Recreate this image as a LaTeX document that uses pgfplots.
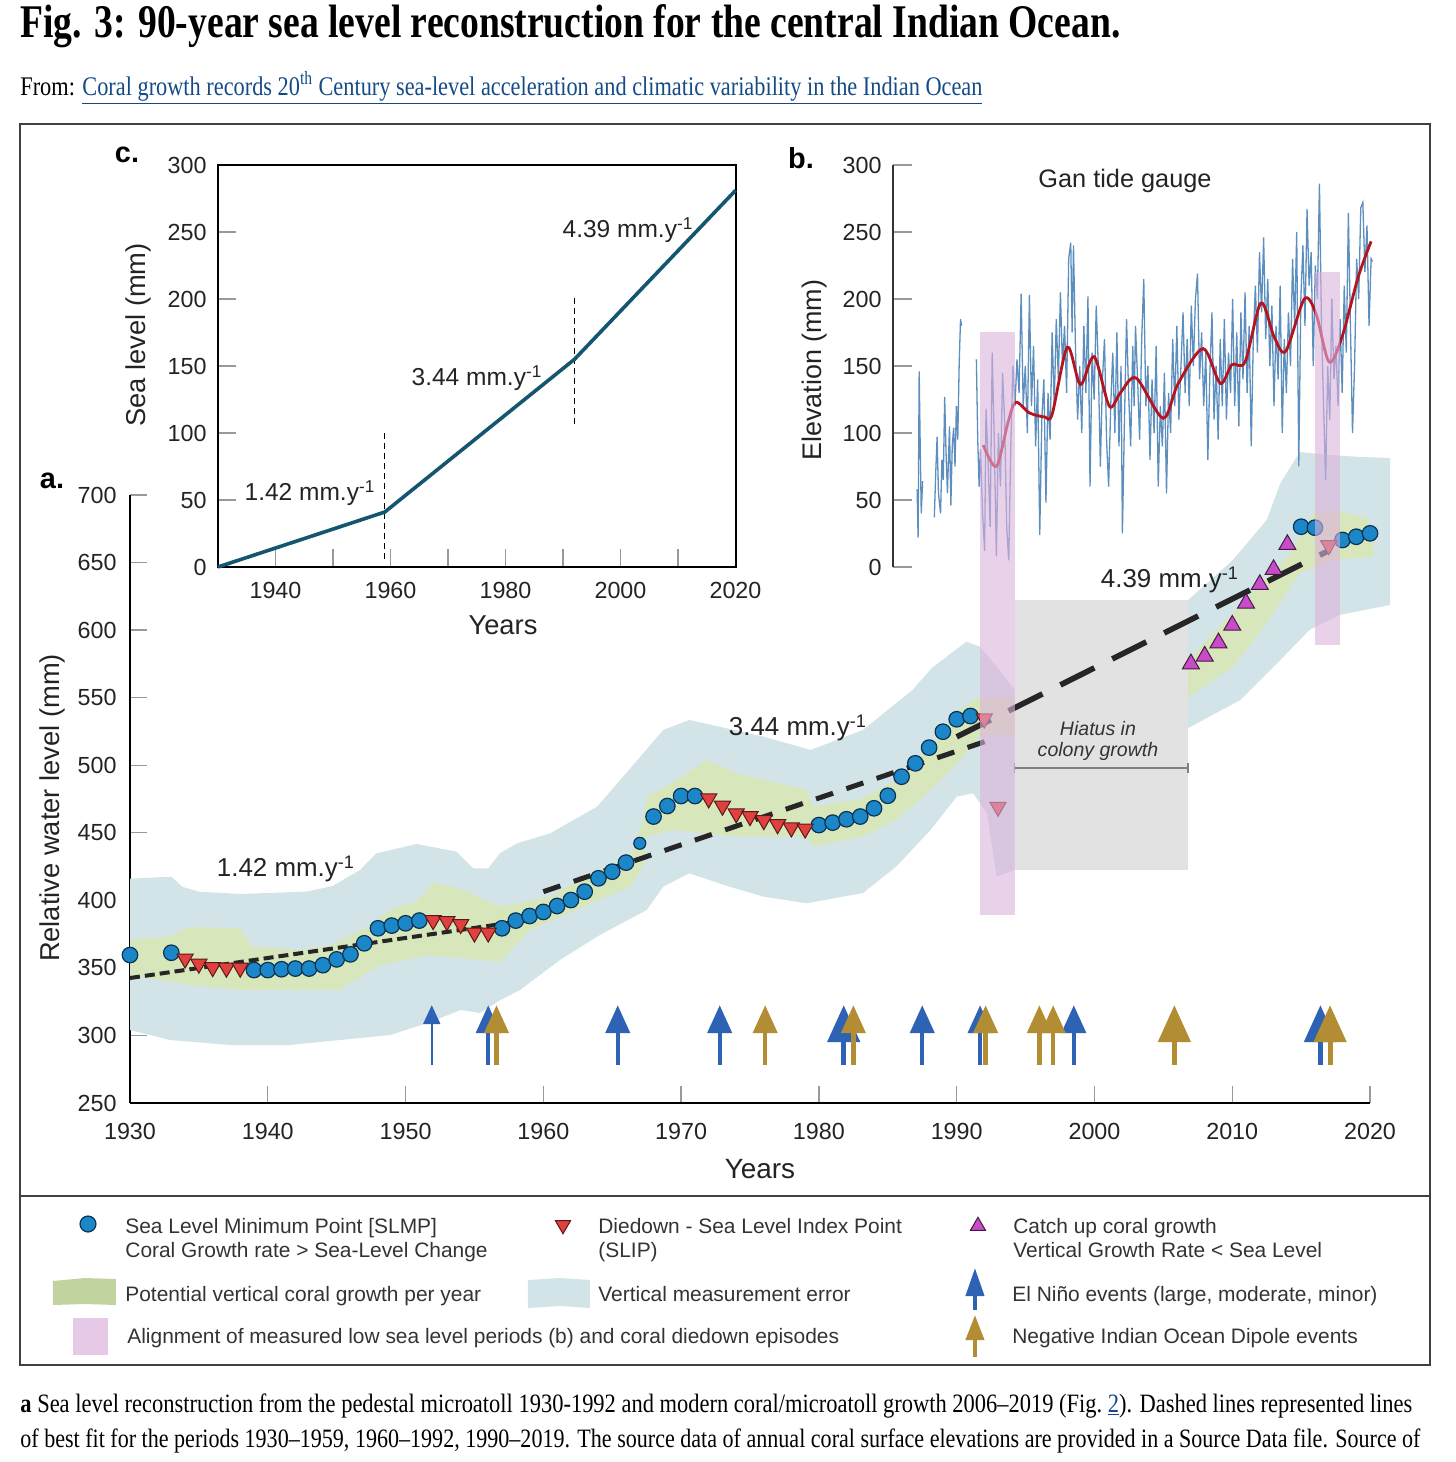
\documentclass[border=0pt]{standalone}
\usepackage{fontspec}
\setmainfont{Liberation Sans}
\newfontfamily\capfont{Liberation Serif}
\usepackage{graphicx}
\usepackage{pgfplots}
\pgfplotsset{compat=1.18}
\usetikzlibrary{arrows.meta}

\definecolor{slmp}{RGB}{27,135,201}
\definecolor{slmpedge}{RGB}{12,50,80}
\definecolor{slip}{RGB}{224,65,63}
\definecolor{slipedge}{RGB}{90,25,25}
\definecolor{catchup}{RGB}{200,76,200}
\definecolor{catchedge}{RGB}{70,25,70}
\definecolor{errband}{RGB}{211,228,232}
\definecolor{growband}{RGB}{216,231,187}
\definecolor{growswatch}{RGB}{193,212,160}
\definecolor{alignpink}{RGB}{220,178,220}
\definecolor{hiatus}{RGB}{226,226,226}
\definecolor{elnino}{RGB}{45,98,180}
\definecolor{niod}{RGB}{179,141,51}
\definecolor{gaugeblue}{RGB}{92,142,190}
\definecolor{gaugered}{RGB}{180,20,30}
\definecolor{slcurve}{RGB}{20,85,112}
\definecolor{linkblue}{RGB}{20,75,135}
\definecolor{txt}{RGB}{35,35,35}

\pgfplotsset{
  ticks common/.style={
    tick align=inside,
    every tick/.style={black!40, line width=0.7bp},
    ticklabel style={font=\fontsize{11.7}{13}\selectfont, text=txt, inner sep=0pt},
    /pgf/number format/1000 sep={},
    /pgf/number format/assume math mode=true,
  },
}

\begin{document}
\begin{tikzpicture}
\useasboundingbox (0,0) rectangle (728bp,731bp);

% ---------------- a. main reconstruction ----------------
\begin{axis}[
  at={(65bp,179.5bp)}, anchor=south west,
  x=6.889bp, y=0.67556bp,
  xmin=1930, xmax=2020, ymin=250, ymax=700,
  axis x line=bottom, axis y line=left,
  axis line style={-, line width=1bp, black},
  clip=false,
  ticks common,
  xtick={1930,1940,...,2020}, ytick={250,300,...,700},
  major tick length=8.5bp,
  xticklabel style={anchor=north, yshift=-9.7bp},
  yticklabel style={anchor=east, xshift=-6.5bp},
]
% hiatus in colony growth
\addplot[fill=hiatus, draw=none] coordinates {(1994.2,422.4)(2006.8,422.4)(2006.8,622.3)(1994.2,622.3)} --cycle;

% vertical measurement error
\addplot[fill=errband, draw=none] coordinates {
(1930,416)(1933,417.5)(1933.8,410)(1935,406.4)(1938,404.7)(1942.8,406.4)(1944.7,410.6)
(1946.7,422.5)(1947.9,434.8)(1950.8,441.7)(1953.7,436)(1954.9,423.7)(1956,423.7)
(1956.85,434.8)(1958.1,442.2)(1960.5,449.6)(1963.9,469.3)(1967.25,508.8)(1968.7,526.1)
(1970.6,533.5)(1976,521.1)(1979.4,511.3)(1983.2,526.1)(1986.8,555.7)(1988.2,572)
(1990.7,591.4)(1991.7,587.7)(1993.1,570.5)(1994.2,555.7)
(1994.2,422.5)(1992.9,417.5)(1992.2,464.4)(1991.2,479.2)(1990.0,476.7)(1988.1,452)
(1985.6,424.9)(1983.2,405.4)(1979.1,397.8)(1976.0,402.7)(1973.5,410.1)(1970.6,420)
(1968.7,410.1)(1967.5,392.8)(1964.1,374.3)(1961.2,355.8)(1958.3,333.6)(1956.85,326)
(1955.4,316.6)(1954,318.8)(1951.8,310)(1948.9,300.3)(1945.2,296.6)(1941.6,292.9)
(1937.3,292.9)(1932.9,296.6)(1930,304)} --cycle;
\addplot[fill=errband, draw=none] coordinates {
(2006.8,622.3)(2010.05,651.9)(2012.5,681.5)(2013.5,708.9)(2014.9,731.8)(2017.1,729.6)
(2019.3,728.1)(2021.45,727.4)(2021.45,618.6)(2017.8,611.2)(2015.6,600.1)(2013.5,577.9)
(2010.6,548.3)(2006.8,527.5)} --cycle;

% potential vertical coral growth
\addplot[fill=growband, draw=none] coordinates {
(1930,370.6)(1932.7,373.1)(1934.1,379.3)(1935.1,380)(1938,379.3)(1938.8,365.7)
(1942.3,363.2)(1944.7,366.9)(1947.2,380.5)(1948.9,392.8)(1950.8,399)(1952,412.6)
(1953.5,410.1)(1954.7,405.2)(1956.85,395.3)(1959.3,400.2)(1960.5,402.7)(1963.9,422.5)
(1966.3,432)(1967.25,460)(1967.5,476.7)(1969.7,489)(1971.9,503.9)(1974,494)
(1979.1,481.7)(1979.6,469.3)(1983.2,475.5)(1985.6,489)(1988.1,513.7)(1990.5,543.3)
(1991.5,549.5)(1994.2,550.7)
(1994.2,522.4)(1991.7,522.4)(1990.5,506.3)(1988.1,481.7)(1985.6,459.5)(1983.2,447.1)
(1979.6,439.7)(1979.1,447.1)(1974,447.1)(1969.4,452)(1967.5,447.1)(1967.25,424.9)
(1966.3,410.1)(1959,378)(1956.85,354.4)(1955.4,355.8)(1951.8,359.5)(1948.1,352)
(1945.2,333.6)(1938,333.6)(1934.4,337.3)(1930,344.7)} --cycle;
\addplot[fill=growband, draw=none] coordinates {
(2006.8,577.9)(2010.05,612.7)(2014,654.1)(2015.9,686.7)(2017.3,688.9)(2019.75,683)
(2020.3,672)(2020.2,654.1)(2017.3,651.9)(2014.9,642.3)(2012.5,605.3)(2010.05,572.7)
(2006.8,550.5)} --cycle;

% hiatus bracket
\addplot[black!50, line width=0.7bp] coordinates {(1994.2,497.9)(2006.8,497.9)};
\addplot[black!50, line width=0.7bp] coordinates {(1994.2,494)(1994.2,502)};
\addplot[black!50, line width=0.7bp] coordinates {(2006.8,494)(2006.8,502)};

% El Nino events
\addplot[elnino, mark=none, quiver={u=0,v=44.4}, line width=1.1bp,
  -{Triangle[width=8.5bp,length=9.5bp]}] coordinates {(1951.9,278)};
\addplot[elnino, mark=none, quiver={u=0,v=44.4}, line width=2.2bp,
  -{Triangle[width=12bp,length=14bp]}] coordinates {
  (1956.0,278)(1965.4,278)(1972.8,278)(1987.5,278)(1991.7,278)(1998.5,278)};
\addplot[elnino, mark=none, quiver={u=0,v=44.4}, line width=2.5bp,
  -{Triangle[width=16bp,length=18.5bp]}] coordinates {(1981.8,278)(2016.4,278)};
% negative IOD events
\addplot[niod, mark=none, quiver={u=0,v=44.4}, line width=2.2bp,
  -{Triangle[width=12bp,length=14bp]}] coordinates {
  (1956.6,278)(1976.1,278)(1982.5,278)(1992.1,278)(1996.0,278)(1997.0,278)};
\addplot[niod, mark=none, quiver={u=0,v=44.4}, line width=2.5bp,
  -{Triangle[width=16bp,length=18.5bp]}] coordinates {(2005.8,278)(2017.1,278)};

% sea level minimum points
\addplot[only marks, mark=*, mark size=3.9pt,
  mark options={fill=slmp, draw=slmpedge, line width=0.6bp}] coordinates {
(1930,359.5)(1933,361.2)(1939,348.4)(1940,348.4)(1941,349.0)(1942,349.5)(1943,349.5)
(1944,352.0)(1945,356.3)(1946,360.0)(1947,368.2)(1948,379.3)(1949,381.3)(1950,383.0)
(1951,385.0)(1957,379.3)(1958,385.0)(1959,388.4)(1960,391.4)(1961,395.8)(1962,400.2)
(1963,406.4)(1964,416.3)(1965,421.2)(1966,427.9)(1968,462.0)(1969,469.8)(1970,477.2)
(1971,477.2)(1980,455.7)(1981,457.5)(1982,460.0)(1983,462.0)(1984,468.1)(1985,477.4)
(1986,491.5)(1987,501.4)(1988,513.0)(1989,524.8)(1990,534.0)(1991,536.4)
(2015,676.5)(2016,675.8)(2018,666.7)(2019,669.1)(2020,671.6)};
\addplot[only marks, mark=*, mark size=3pt,
  mark options={fill=slmp, draw=slmpedge, line width=0.6bp}] coordinates {(1967,442.2)};
% diedown index points
\addplot[only marks, mark=triangle*, mark size=4.7pt,
  mark options={rotate=180, fill=slip, draw=slipedge, line width=0.5bp}] coordinates {
(1934,356.8)(1935,353)(1936,350.4)(1937,350)(1938,350)(1952,385.2)(1953,384.5)
(1954,382.3)(1955,376)(1956,376)(1972,475.3)(1973,469.9)(1974,464.2)(1975,462.2)
(1976,459.2)(1977,456.2)(1978,453.8)(1979,453)(1992,534.5)(1993,469.1)(2017,662.7)};
% catch up growth
\addplot[only marks, mark=triangle*, mark size=4.9pt,
  mark options={fill=catchup, draw=catchedge, line width=0.5bp}] coordinates {
(2007,575)(2008,580.7)(2009,590.5)(2010,603.6)(2011,619.9)(2012,633.7)(2013,644.8)(2014,663.3)};

% lines of best fit
\addplot[black!85, line width=2bp, dash pattern=on 5bp off 2.5bp] coordinates {(1930,342.5)(1959,385.5)};
\addplot[black!85, line width=2.5bp, dash pattern=on 9bp off 7bp] coordinates {(1960,406.4)(1992.2,518)};
\addplot[black!85, line width=2.8bp, dash pattern=on 19bp off 10bp] coordinates {(1990,521)(2017.1,659.3)};
\end{axis}

% ---------------- c. sea level rates ----------------
\begin{axis}[
  at={(109bp,447.5bp)}, anchor=south west,
  x=2.875bp, y=0.67bp,
  xmin=1930, xmax=2020, ymin=0, ymax=300,
  axis line style={line width=1bp, black},
  clip=false,
  ticks common,
  tick pos=left,
  xtick={1940,1950,...,2020}, xticklabels={1940,,1960,,1980,,2000,,2020},
  ytick={0,50,...,300},
  major tick length=9bp,
  xticklabel style={anchor=north, yshift=-7.3bp},
  yticklabel style={anchor=east, xshift=-5.5bp},
]
\addplot[black, line width=0.6bp, dash pattern=on 3bp off 2bp] coordinates {(1959,6)(1959,102)};
\addplot[black, line width=0.6bp, dash pattern=on 3bp off 2bp] coordinates {(1992,107)(1992,204)};
\addplot[slcurve, line width=1.8bp] coordinates {(1930,0)(1959,41)(1992,155)(2020,281)};
\end{axis}

% ---------------- b. Gan tide gauge ----------------
\begin{axis}[
  at={(446.5bp,447.5bp)}, anchor=south west,
  x=6.889bp, y=0.67bp,
  xmin=1985.4, xmax=2022, ymin=0, ymax=300,
  axis x line=none, axis y line=left, xtick=\empty,
  axis line style={-, line width=0.8bp, black!80},
  clip=false, unbounded coords=jump,
  ticks common,
  ytick={0,50,...,300},
  major tick length=9.5bp,
  yticklabel style={anchor=east, xshift=-5.5bp},
]
\addplot[gaugeblue, line width=0.65bp] coordinates {
(1987.15,58)(1987.22,22)(1987.3,146)(1987.38,86)(1987.45,40)(1987.55,64)(1987.7,nan)
(1988.4,37)(1988.5,70)(1988.6,97)(1988.7,55)(1988.85,40)(1988.95,80)(1989.05,65)
(1989.15,127)(1989.25,85)(1989.35,55)(1989.5,105)(1989.6,46)(1989.7,90)(1989.8,104)
(1989.9,75)(1990.0,120)(1990.1,95)(1990.2,150)(1990.3,185)(1990.38,180)(1990.9,nan)
(1991.45,155)(1991.55,95)(1991.65,60)(1991.75,88)(1991.9,40)(1992.05,12)(1992.15,118)
(1992.3,80)(1992.45,30)(1992.6,160)(1992.75,95)(1992.9,8)(1993.05,100)(1993.2,60)
(1993.35,145)(1993.5,110)(1993.65,30)(1993.8,5)(1993.95,90)(1994.1,150)(1994.25,120)
(1994.4,155)(1994.55,130)(1994.7,204)(1994.85,120)(1995.0,150)(1995.15,100)(1995.3,203)
(1995.45,120)(1995.6,165)(1995.75,90)(1995.9,140)(1996.05,24)(1996.2,110)(1996.35,140)
(1996.5,48)(1996.65,130)(1996.8,95)(1996.95,175)(1997.1,120)(1997.25,185)(1997.4,140)
(1997.55,205)(1997.7,150)(1997.85,180)(1998.0,130)(1998.15,230)(1998.3,242)(1998.4,175)
(1998.5,240)(1998.65,160)(1998.8,110)(1998.95,150)(1999.1,100)(1999.25,180)(1999.4,130)
(1999.55,202)(1999.7,60)(1999.85,160)(2000.0,125)(2000.15,195)(2000.3,150)(2000.45,75)
(2000.6,140)(2000.75,170)(2000.9,95)(2001.05,60)(2001.2,120)(2001.35,160)(2001.5,100)
(2001.65,175)(2001.8,90)(2001.95,150)(2002.05,25)(2002.2,110)(2002.35,185)(2002.5,130)
(2002.65,90)(2002.8,165)(2002.9,120)(2003.0,180)(2003.15,140)(2003.3,95)(2003.45,170)
(2003.6,215)(2003.75,120)(2003.9,150)(2004.05,80)(2004.2,140)(2004.35,100)(2004.5,165)
(2004.65,60)(2004.8,120)(2004.95,90)(2005.1,145)(2005.25,55)(2005.4,130)(2005.55,100)
(2005.7,170)(2005.85,120)(2006.0,180)(2006.15,110)(2006.3,150)(2006.45,190)(2006.6,130)
(2006.75,170)(2006.9,120)(2007.05,195)(2007.2,150)(2007.35,200)(2007.5,219)(2007.65,140)
(2007.8,175)(2007.95,120)(2008.1,160)(2008.25,80)(2008.4,145)(2008.55,190)(2008.7,110)
(2008.85,150)(2009.0,95)(2009.15,170)(2009.3,120)(2009.45,185)(2009.6,110)(2009.75,160)
(2009.9,130)(2010.05,200)(2010.2,120)(2010.35,175)(2010.5,105)(2010.65,190)(2010.8,140)
(2010.95,205)(2011.1,130)(2011.25,180)(2011.4,90)(2011.55,170)(2011.7,210)(2011.85,160)
(2012.0,235)(2012.15,190)(2012.3,246)(2012.45,170)(2012.6,215)(2012.75,150)(2012.9,195)
(2013.05,120)(2013.2,180)(2013.35,140)(2013.5,210)(2013.65,100)(2013.8,170)(2013.95,130)
(2014.1,190)(2014.25,150)(2014.4,230)(2014.55,180)(2014.7,250)(2014.85,75)(2015.0,200)
(2015.15,240)(2015.3,180)(2015.45,267)(2015.6,210)(2015.75,235)(2015.9,150)(2016.05,225)
(2016.2,200)(2016.35,286)(2016.5,180)(2016.65,120)(2016.8,65)(2016.95,150)(2017.1,110)
(2017.25,200)(2017.4,140)(2017.55,165)(2017.7,120)(2017.85,185)(2018.0,130)(2018.15,210)
(2018.3,160)(2018.45,264)(2018.6,180)(2018.75,100)(2018.9,150)(2019.05,230)(2019.2,200)
(2019.35,268)(2019.5,272)(2019.65,220)(2019.8,255)(2019.95,180)(2020.1,230)(2020.2,228)};
\addplot[gaugered, line width=1.4bp, smooth] coordinates {
(1991.95,91)(1992.9,75)(1993.75,108)(1994.3,123)(1995.3,115)(1996.4,112)(1996.95,114)
(1998.05,164)(1999.0,136)(2000.0,157)(2001.1,120)(2001.9,130)(2003.05,141)(2005.0,111)
(2006.1,137)(2007.9,163)(2009.15,137)(2010.0,151)(2010.95,153)(2012.1,197)(2013.05,172)
(2013.9,161)(2015.25,200)(2016.1,189)(2017.05,153)(2018.0,172)(2019.15,216)(2020.1,243)};
% alignment of low sea level periods and coral diedown episodes
\addplot[fill=alignpink, fill opacity=0.6, draw=none] coordinates {
(1991.69,-259.7)(1994.23,-259.7)(1994.23,175.4)(1991.69,175.4)} --cycle;
\addplot[fill=alignpink, fill opacity=0.6, draw=none] coordinates {
(2016.0,-58.2)(2017.82,-58.2)(2017.82,220.1)(2016.0,220.1)} --cycle;
\end{axis}

% ---------------- page furniture in pixel units ----------------
\begin{axis}[
  at={(0bp,0bp)}, anchor=south west,
  x=0.5bp, y=0.5bp, y dir=reverse,
  xmin=0, xmax=1456, ymin=0, ymax=1462,
  hide axis, clip=false,
]
\node[anchor=base west, inner sep=0pt] at (20,37)
  {\resizebox{550bp}{\height}{\capfont\bfseries\fontsize{23.5}{26}\selectfont Fig. 3: 90-year sea level reconstruction for the central Indian Ocean.}};
\node[anchor=base west, inner sep=0pt] at (20,95)
  {\resizebox{481bp}{\height}{\capfont\fontsize{13.5}{15}\selectfont From: \textcolor{linkblue}{\underline{Coral growth records 20\textsuperscript{th} Century sea-level acceleration and climatic variability in the Indian Ocean}}}};

\draw[black!75, line width=0.9bp] (20,124) rectangle (1430,1365);
\draw[black!75, line width=0.9bp] (20,1196) -- (1430,1196);

% panel letters and axis titles
\node[font=\fontsize{14.5}{16}\selectfont\bfseries] at (52,481) {a.};
\node[font=\fontsize{14.5}{16}\selectfont\bfseries] at (127,155) {c.};
\node[font=\fontsize{14.5}{16}\selectfont\bfseries] at (801,158) {b.};
\node[font=\fontsize{13.7}{15}\selectfont, rotate=90, text=txt] at (52,808) {Relative water level (mm)};
\node[font=\fontsize{14}{16}\selectfont, text=txt] at (760,1169) {Years};
\node[font=\fontsize{13.7}{15}\selectfont, rotate=90, text=txt] at (138,335) {Sea level (mm)};
\node[font=\fontsize{13.7}{15}\selectfont, text=txt] at (503,625) {Years};
\node[font=\fontsize{13.5}{15}\selectfont, rotate=90, text=txt] at (815,370) {Elevation (mm)};
\node[font=\fontsize{12.7}{15}\selectfont, text=txt] at (1125,181) {Gan tide gauge};

% rate labels
\node[font=\fontsize{13}{15}\selectfont, text=txt] at (286,869) {1.42 mm.y\textsuperscript{-1}};
\node[font=\fontsize{13}{15}\selectfont, text=txt] at (798,728) {3.44 mm.y\textsuperscript{-1}};
\node[font=\fontsize{13}{15}\selectfont, text=txt] at (1170,580) {4.39 mm.y\textsuperscript{-1}};
\node[font=\fontsize{12.3}{14}\selectfont, text=txt] at (310,493) {1.42 mm.y\textsuperscript{-1}};
\node[font=\fontsize{12.3}{14}\selectfont, text=txt] at (477,378) {3.44 mm.y\textsuperscript{-1}};
\node[font=\fontsize{12.3}{14}\selectfont, text=txt] at (628,230) {4.39 mm.y\textsuperscript{-1}};
\node[font=\fontsize{9.8}{11}\selectfont\itshape, text=black!80] at (1098,728) {Hiatus in};
\node[font=\fontsize{9.8}{11}\selectfont\itshape, text=black!80] at (1098,751) {colony growth};

% legend symbols
\addplot[only marks, mark=*, mark size=4pt,
  mark options={fill=slmp, draw=slmpedge, line width=0.6bp}] coordinates {(88,1224)};
\addplot[only marks, mark=triangle*, mark size=4.4pt,
  mark options={rotate=180, fill=slip, draw=slipedge, line width=0.5bp}] coordinates {(563,1225)};
\addplot[only marks, mark=triangle*, mark size=4.4pt,
  mark options={fill=catchup, draw=catchedge, line width=0.5bp}] coordinates {(978,1226)};
\addplot[fill=growswatch, draw=none] coordinates {(53,1281)(85,1278)(116,1279)(116,1305)(85,1304)(53,1305)} --cycle;
\addplot[fill=errband, draw=none] coordinates {(528,1280)(560,1278)(590,1280)(590,1308)(560,1306)(528,1308)} --cycle;
\addplot[fill=alignpink!70!white, draw=none] coordinates {(73,1318)(108,1318)(108,1355)(73,1355)} --cycle;
\addplot[elnino, mark=none, quiver={u=0,v=-42}, line width=2bp,
  -{Triangle[width=9bp,length=14bp]}] coordinates {(975,1310)};
\addplot[niod, mark=none, quiver={u=0,v=-42}, line width=2bp,
  -{Triangle[width=9bp,length=12.5bp]}] coordinates {(975,1357)};

% legend texts
\begin{scope}[every node/.style={anchor=base west, inner sep=0pt, text=black!80, font=\fontsize{10.5}{12}\selectfont}]
\node at (125,1233) {Sea Level Minimum Point [SLMP]};
\node at (125,1257) {Coral Growth rate > Sea-Level Change};
\node at (598,1233) {Diedown - Sea Level Index Point};
\node at (598,1257) {(SLIP)};
\node at (1013,1233) {Catch up coral growth};
\node at (1013,1257) {Vertical Growth Rate < Sea Level};
\node at (125,1301) {Potential vertical coral growth per year};
\node at (598,1301) {Vertical measurement error};
\node at (1012,1301) {El Niño events (large, moderate, minor)};
\node at (127,1343) {Alignment of measured low sea level periods (b) and coral diedown episodes};
\node at (1012,1343) {Negative Indian Ocean Dipole events};
\end{scope}

% caption
\node[anchor=base west, inner sep=0pt] at (20,1412)
  {\resizebox{696bp}{\height}{\capfont\fontsize{13.3}{15}\selectfont\textbf{a} Sea level reconstruction from the pedestal microatoll 1930-1992 and modern coral/microatoll growth 2006–2019 (Fig.~\textcolor{linkblue}{\underline{2}}). Dashed lines represented lines}};
\node[anchor=base west, inner sep=0pt] at (20,1447)
  {\resizebox{700bp}{\height}{\capfont\fontsize{13.3}{15}\selectfont of best fit for the periods 1930–1959, 1960–1992, 1990–2019. The source data of annual coral surface elevations are provided in a Source Data file. Source of}};
\end{axis}
\end{tikzpicture}
\end{document}
